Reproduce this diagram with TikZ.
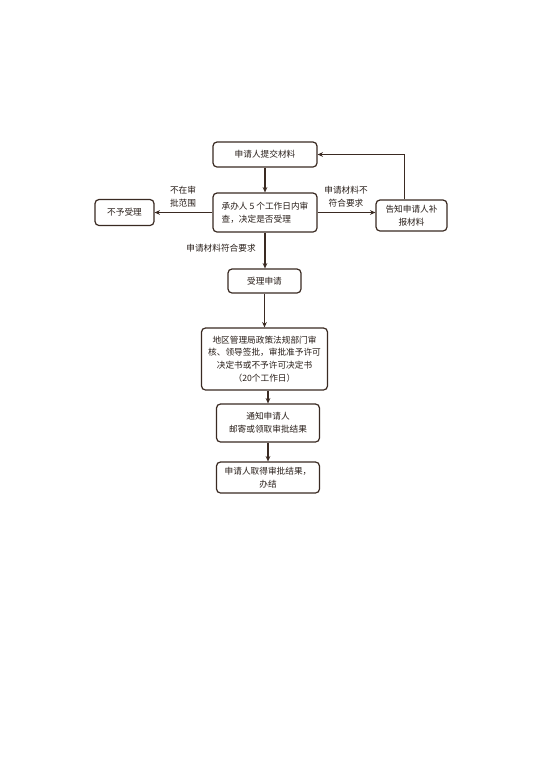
\documentclass[tikz,border=0pt]{standalone}
\usepackage{fontspec}
\newfontfamily\cjk{Noto Sans CJK SC}
\usetikzlibrary{positioning,arrows.meta,calc}
\definecolor{frame}{RGB}{58,42,34}
\definecolor{ink}{RGB}{40,30,25}
\tikzset{
  box/.style={draw=frame, rounded corners=3pt, line width=0.9pt, align=center,
              text=ink, font=\cjk\fontsize{6.5}{9.5}\selectfont, inner sep=2pt},
  flow/.style={-{Stealth[length=4pt,width=3.5pt]}, line width=0.8pt, draw=frame},
  lab/.style={font=\cjk\fontsize{6.5}{9.5}\selectfont, text=ink, align=center, inner sep=1pt},
}
\begin{document}
\begin{tikzpicture}[x=0.75pt,y=-0.75pt]
  \useasboundingbox[fill=white] (0,0) rectangle (543,768);

  % main column
  \node[box, minimum width=78pt, minimum height=18.75pt] (submit) at (265,154.5) {申请人提交材料};
  \node[box, align=left, minimum width=78pt, minimum height=29.25pt] (review) at (265,212.5)
    {承办人 5 个工作日内审\\查，决定是否受理};
  \node[box, minimum width=54.75pt, minimum height=18pt] (accept) at (264.5,281) {受理申请};
  \node[box, minimum width=94.5pt, minimum height=46.5pt] (decide) at (264.5,359)
    {地区管理局政策法规部门审\\核、领导签批，审批准予许可\\决定书或不予许可决定书\\（20个工作日）};
  \node[box, minimum width=77.25pt, minimum height=28.5pt] (inform) at (268,423)
    {通知申请人\\邮寄或领取审批结果};
  \node[box, minimum width=77.25pt, minimum height=23.25pt] (finish) at (268,477.5)
    {申请人取得审批结果，\\办结};

  % side branches
  \node[box, minimum width=44.25pt, minimum height=19.5pt] (reject) at (124.5,212.5) {不予受理};
  \node[box, minimum width=53.25pt, minimum height=23.25pt] (notify) at (411.5,215.5)
    {告知申请人补\\报材料};

  \draw[flow] (submit) -- (review);
  \draw[flow] (review) -- (reject);
  \draw[flow] (review) -- (review -| notify.west);
  \draw[flow] ($(notify.north)+(-7,0)$) |- (submit.east);
  \draw[flow] (review.south) -- (review.south |- accept.north);
  \draw[flow] (accept) -- (decide);
  \draw[flow] (inform.north |- decide.south) -- (inform.north);
  \draw[flow] (inform) -- (finish);

  % branch labels
  \node[lab] (outscope) at (183,197) {不在审\\批范围};
  \node[lab] (lacking) at (346,197) {申请材料不\\符合要求};
  \node[lab] (meets) at (221,248) {申请材料符合要求};
\end{tikzpicture}
\end{document}
